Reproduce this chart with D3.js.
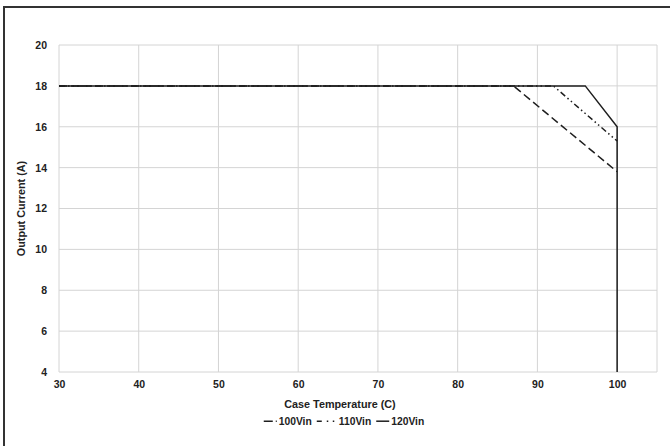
<!DOCTYPE html>
<html>
<head>
<meta charset="utf-8">
<script src="https://cdn.jsdelivr.net/npm/d3@7"></script>
<style>
  body { margin: 0; background: #fff; }
  svg { display: block; font-family: "Liberation Sans", Arial, sans-serif; }
</style>
</head>
<body>
<svg id="chart" width="670" height="446"></svg>
<script>
// derating curves: output current vs case temperature
const xTicks = [30, 40, 50, 60, 70, 80, 90, 100];
const yTicks = [4, 6, 8, 10, 12, 14, 16, 18, 20];
const seriesNames = ["100Vin", "110Vin", "120Vin"];
const temp100 = [30, 87, 100];
const amps100 = [18, 18, 13.8];
const temp110 = [30, 92, 100];
const amps110 = [18, 18, 15.3];
const temp120 = [30, 96, 100, 100];
const amps120 = [18, 18, 16, 4];

const dashes = { "100Vin": "8 4", "110Vin": "6 3 1.5 3 1.5 3", "120Vin": null };
// legend samples are short, so they get their own patterns
const legDash = { "100Vin": "9 3", "110Vin": "5 5 1.5 4.5 1.5", "120Vin": null };

const svg = d3.select("#chart");
const W = 670, H = 446;
const m = { left: 59, right: 13, top: 45, bottom: 74 };

const x = d3.scaleLinear().domain([30, 105]).range([m.left, W - m.right]);
const y = d3.scaleLinear().domain([4, 20]).range([H - m.bottom, m.top]);

// outer frame (cropped on the right and bottom like the source)
svg.append("rect")
  .attr("x", 4).attr("y", 7).attr("width", 720).attr("height", 520)
  .attr("fill", "none").attr("stroke", "#333").attr("stroke-width", 2);

// grid
const grid = svg.append("g").attr("stroke", "#d4d4d4").attr("stroke-width", 1);
xTicks.concat([105]).forEach(t => {
  grid.append("line").attr("x1", x(t)).attr("x2", x(t))
    .attr("y1", y(20)).attr("y2", y(4));
});
yTicks.forEach(t => {
  grid.append("line").attr("x1", x(30)).attr("x2", x(105))
    .attr("y1", y(t)).attr("y2", y(t));
});

// tick labels via axes, domain/ticks hidden
const xAxis = svg.append("g")
  .attr("transform", `translate(0,${y(4)})`)
  .call(d3.axisBottom(x).tickValues(xTicks).tickSize(0).tickPadding(9));
const yAxis = svg.append("g")
  .attr("transform", `translate(${x(30)},0)`)
  .call(d3.axisLeft(y).tickValues(yTicks).tickSize(0).tickPadding(12));
[xAxis, yAxis].forEach(a => {
  a.select(".domain").remove();
  a.selectAll("text")
    .attr("font-family", "Liberation Sans, Arial, sans-serif")
    .attr("font-size", 10.5).attr("font-weight", "bold").attr("fill", "#222");
});

// series
const series = [
  { name: "100Vin", xs: temp100, ys: amps100 },
  { name: "110Vin", xs: temp110, ys: amps110 },
  { name: "120Vin", xs: temp120, ys: amps120 }
];
const line = d3.line().x(d => x(d[0])).y(d => y(d[1]));
series.forEach(s => {
  svg.append("path")
    .datum(s.xs.map((t, i) => [t, s.ys[i]]))
    .attr("d", line)
    .attr("fill", "none")
    .attr("stroke", "#1e1e1e")
    .attr("stroke-width", 1.5)
    .attr("stroke-dasharray", dashes[s.name]);
});

// axis titles
svg.append("text")
  .attr("x", 340).attr("y", 408)
  .attr("text-anchor", "middle")
  .attr("font-size", 10.8).attr("font-weight", "bold").attr("fill", "#222")
  .text("Case Temperature (C)");
svg.append("text")
  .attr("transform", `translate(25,${(y(4) + y(20)) / 2}) rotate(-90)`)
  .attr("text-anchor", "middle")
  .attr("font-size", 10.8).attr("font-weight", "bold").attr("fill", "#222")
  .text("Output Current (A)");

// legend: laid out left to right from measured text widths
const legW = [13, 20, 13];
const leg = svg.append("g").attr("transform", "translate(0,425)");
let cx = 0;
seriesNames.forEach((n, i) => {
  const g = leg.append("g").attr("transform", `translate(${cx},0)`);
  g.append("line")
    .attr("x1", 0).attr("x2", legW[i])
    .attr("y1", -3.8).attr("y2", -3.8)
    .attr("stroke", "#1e1e1e").attr("stroke-width", 1.5)
    .attr("stroke-dasharray", legDash[n]);
  const t = g.append("text")
    .attr("x", legW[i] + 2).attr("y", 0)
    .attr("font-size", 10.3).attr("font-weight", "bold").attr("fill", "#222")
    .text(n);
  cx += legW[i] + 2 + t.node().getComputedTextLength() + 5;
});
leg.attr("transform", `translate(${344 - (cx - 5) / 2},425)`);
</script>
</body>
</html>
